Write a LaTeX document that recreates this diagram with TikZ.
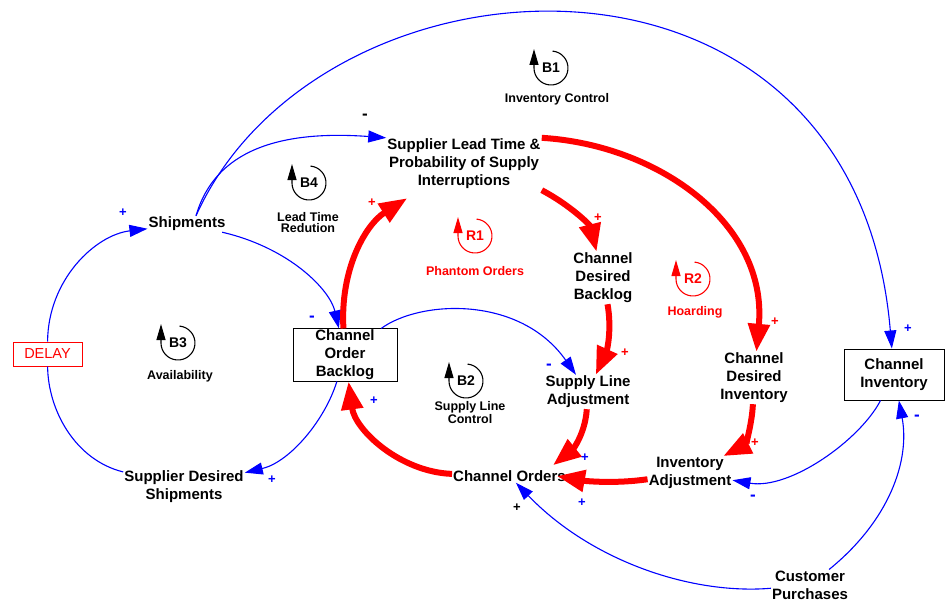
\documentclass[tikz,border=0pt]{standalone}
\usepackage{fontspec}
\setmainfont{Liberation Sans}
\usetikzlibrary{arrows.meta}

\begin{document}
\begin{tikzpicture}[x=1pt, y=1pt, inner sep=1pt,
  var/.style={align=center, font=\bfseries\fontsize{15}{18}\selectfont},
  lvl/.style={var, draw, line width=1pt, minimum width=104pt, minimum height=50pt},
  lnk/.style={blue, line width=1.1pt, -{Triangle[length=18pt,width=12pt]}},
  rlnk/.style={red, line width=6pt, -{Triangle[length=28pt,width=21pt]}},
  pol/.style={inner sep=0pt, font=\bfseries\fontsize{13}{13}\selectfont},
  neg/.style={inner sep=0pt, font=\bfseries\fontsize{17}{17}\selectfont},
  loopid/.style={inner sep=0pt, font=\bfseries\fontsize{14}{14}\selectfont},
  looplbl/.style={align=center, inner sep=0pt, font=\bfseries\fontsize{12.5}{11.5}\selectfont},
  loopc/.style={line width=1.1pt, -{Triangle[length=16pt,width=9pt]}}]

\useasboundingbox (0,0) rectangle (945,-602);

% Define the variables and the two levels
\node (ship)  at (187,-224)   [var] {Shipments};
\node (delay) at (47.5,-354)  [draw=red, text=red, line width=1pt, inner sep=0pt, minimum width=69pt, minimum height=24pt, font=\fontsize{14.5}{15}\selectfont] {DELAY};
\node (sds)   at (184,-487)   [var] {Supplier Desired\\Shipments};
\node (cob)   at (345,-355)   [lvl] {Channel\\Order\\Backlog};
\node (slt)   at (464,-164)   [var] {Supplier Lead Time \&\\Probability of Supply\\Interruptions};
\node (cdb)   at (603,-278)   [var] {Channel\\Desired\\Backlog};
\node (sla)   at (588,-392)   [var] {Supply Line\\Adjustment};
\node (cdi)   at (754,-378)   [var] {Channel\\Desired\\Inventory};
\node (ci)    at (894,-374.5) [lvl, minimum width=100pt, minimum height=51pt] {Channel\\Inventory};
\node (ia)    at (690,-473)   [var] {Inventory\\Adjustment};
\node (co)    at (509.5,-476) [var] {Channel Orders};
\node (cp)    at (810,-585)   [var] {Customer\\Purchases};

% Thin blue links
\draw[lnk] ([xshift=9pt]ship.north) .. controls (320,60) and (855,90) .. (ci);
\draw[lnk] ([xshift=9pt]ship.north) .. controls (215,-150) and (280,-130) .. (slt.north west);
\draw[lnk] (ship) .. controls (290,-248) and (330,-290) .. (cob);
\draw[lnk] (delay) .. controls (48,-280) and (95,-235) .. (ship);
\draw[lnk, -] (sds) .. controls (75,-460) and (48,-410) .. (delay);
\draw[lnk] (cob) .. controls (325,-420) and (290,-462) .. (sds);
\draw[lnk] (cob) .. controls (420,-300) and (520,-295) .. (sla);
\draw[lnk] (ci) .. controls (860,-440) and (790,-490) .. (ia);
\draw[lnk] (cp) .. controls (890,-520) and (910,-460) .. (ci);
\draw[lnk] (cp) .. controls (690,-595) and (590,-560) .. (co);

% Thick red links
\draw[rlnk] (co) .. controls (400,-472) and (355,-430) .. (cob);
\draw[rlnk] (cob) .. controls (340,-270) and (365,-225) .. ([shift={(21,-8)}]slt.south west);
\draw[rlnk] (slt.south east) .. controls (570,-205) and (590,-225) .. (cdb);
\draw[rlnk] (slt.north east) .. controls (660,-145) and (768,-225) .. (cdi);
\draw[rlnk] (cdb) .. controls (612,-330) and (607,-350) .. (sla);
\draw[rlnk] (sla) .. controls (585,-435) and (572,-450) .. ([shift={(-14,4)}]co.north east);
\draw[rlnk] (cdi) .. controls (752,-425) and (745,-445) .. (ia);
\draw[rlnk] (ia) .. controls (615,-484) and (585,-481) .. ([xshift=-10pt]co.east);

% Polarity signs
\node (p1)  at (123,-213) [pol, blue] {+};
\node (p2)  at (365,-117) [neg] {-};
\node (p3)  at (312,-319) [neg, blue] {-};
\node (p4)  at (272,-480) [pol, blue] {+};
\node (p5)  at (374,-401) [pol, blue] {+};
\node (p6)  at (372,-203) [pol, red] {+};
\node (p7)  at (598,-218) [pol, red] {+};
\node (p8)  at (625,-353) [pol, red] {+};
\node (p9)  at (775,-322) [pol, red] {+};
\node (p10) at (755,-443) [pol, red] {+};
\node (p11) at (549,-367) [neg, blue] {-};
\node (p12) at (585,-458) [pol, blue] {+};
\node (p13) at (582,-503) [pol, blue] {+};
\node (p14) at (517,-508) [pol] {+};
\node (p15) at (753,-498) [neg, blue] {-};
\node (p16) at (908,-329) [pol, blue] {+};
\node (p17) at (917,-418) [neg, blue] {-};

% Loop markers, each arc drawn round its own centre
\node (b1) at (551,-68) [loopid] {B1};
\draw[loopc] ([shift={(551,-68)}] 85:17) arc (85:-180:17) -- ++(0,19);
\node (b1l) at (557,-99) [looplbl] {Inventory Control};

\node (b4) at (309,-183) [loopid] {B4};
\draw[loopc] ([shift={(309,-183)}] 85:17) arc (85:-180:17) -- ++(0,19);
\node (b4l) at (308,-222.5) [looplbl] {Lead Time\\Redution};

\node (r1) at (475,-236) [loopid, red] {R1};
\draw[loopc, red] ([shift={(475,-236)}] 85:17) arc (85:-180:17) -- ++(0,19);
\node (r1l) at (475,-271) [looplbl, red] {Phantom Orders};

\node (r2) at (693,-279) [loopid, red] {R2};
\draw[loopc, red] ([shift={(693,-279)}] 85:17) arc (85:-180:17) -- ++(0,19);
\node (r2l) at (695,-312) [looplbl, red] {Hoarding};

\node (b3) at (178,-343) [loopid] {B3};
\draw[loopc] ([shift={(178,-343)}] 85:17) arc (85:-180:17) -- ++(0,19);
\node (b3l) at (180,-376) [looplbl] {Availability};

\node (b2) at (466,-381) [loopid] {B2};
\draw[loopc] ([shift={(466,-381)}] 85:17) arc (85:-180:17) -- ++(0,19);
\node (b2l) at (470,-412.5) [looplbl] {Supply Line\\Control};

\end{tikzpicture}
\end{document}
